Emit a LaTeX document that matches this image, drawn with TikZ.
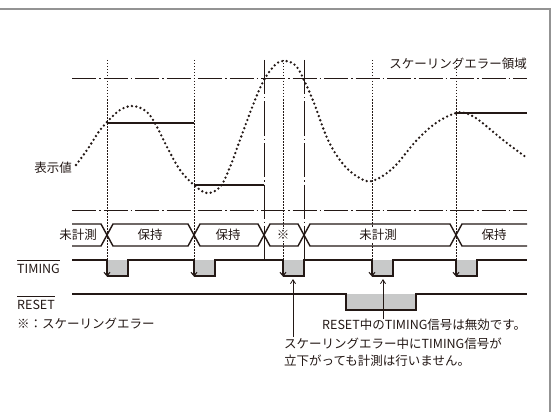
\documentclass[tikz,border=0pt]{standalone}
\usepackage{fontspec}
\setmainfont{Noto Sans CJK JP}
\usetikzlibrary{arrows.meta}
\definecolor{ink}{RGB}{35,24,21}
\definecolor{pulsegray}{RGB}{200,201,201}
\begin{document}
\begin{tikzpicture}[x=1pt,y=-1pt,
  font=\fontsize{12.5}{15}\selectfont,
  vdot/.style={ink, line width=0.8pt, dash pattern=on 1.5pt off 1.5pt},
  ddash/.style={ink, line width=0.9pt, dash pattern=on 24pt off 3pt on 1.5pt off 3pt},
  vddash/.style={ink, line width=1pt, dash pattern=on 34pt off 3pt on 1.5pt off 3pt},
  wave/.style={ink, line width=1.4pt},
  hold/.style={ink, line width=2.4pt},
  curvedots/.style={ink, line width=2.6pt, line cap=round, dash pattern=on 0pt off 4.4pt},
  fall/.style={ink, line width=1.1pt, -{Straight Barb[length=3.5pt,width=6pt]}},
  ann/.style={ink, line width=0.8pt, -{Straight Barb[length=4pt,width=5pt]}},
  bus/.style={ink, line width=1.4pt, line join=miter},
  lbl/.style={inner sep=0pt, text=ink},
  buslbl/.style={inner sep=1pt, text=ink, fill=white},
  frameline/.style={gray!85, line width=1.4pt}
]
\useasboundingbox (0,0) rectangle (552,412);
\fill[white] (0,0) rectangle (552,412);
% frame
\draw[frameline] (0,9) -- (550,9) -- (550,412);

% threshold dash-dot lines
\draw[ddash] (72,78) -- (527,78);
\draw[ddash] (72,210) -- (527,210);
\node[lbl, anchor=east] (scalereg) at (527,64) {スケーリングエラー領域};

% vertical timing guides
\foreach \x in {107,194,283,372,456} \draw[vdot] (\x,60) -- (\x,260);
\foreach \x in {264,304} \draw[vddash] (\x,60) -- (\x,260);

% grey pulse fills
\foreach \x in {107,194,283,372,456} \fill[pulsegray] (\x,260) rectangle (\x+21,276);
\fill[pulsegray] (346,294) rectangle (416,310);

% display value curve
\draw[curvedots] plot[smooth, tension=0.6] coordinates {
 (76,165) (87,150) (100,130) (107,122) (120,110) (133,106) (147,112) (157,127)
 (167,147) (180,170) (194,185) (207,193) (220,187) (230,167) (240,140) (253,105)
 (264,80) (276,64) (286,61) (296,66) (304,80) (314,103) (328,140) (343,164)
 (358,177) (372,181) (393,168) (416,141) (436,123) (456,113) (468,114) (480,121)
 (503,140) (527,158)};
\node[lbl, anchor=east] (dispval) at (72,168) {表示値};

% hold lines
\draw[hold] (107,123) -- (194,123);
\draw[hold] (194,185) -- (264,185);
\draw[hold] (456,113) -- (527,113);

% status bus
\draw[bus] (72,224) -- (101,224) -- (107,235) -- (101,246) -- (72,246);
\draw[bus] (107,235) -- (113,224) -- (188,224) -- (194,235) -- (188,246) -- (113,246) -- cycle;
\draw[bus] (194,235) -- (200,224) -- (258,224) -- (264,235) -- (258,246) -- (200,246) -- cycle;
\draw[bus] (264,235) -- (270,224) -- (298,224) -- (304,235) -- (298,246) -- (270,246) -- cycle;
\draw[bus] (304,235) -- (310,224) -- (450,224) -- (456,235) -- (450,246) -- (310,246) -- cycle;
\draw[bus] (527,224) -- (462,224) -- (456,235) -- (462,246) -- (527,246);
\node[buslbl] (s1) at (78,235) {未計測};
\node[buslbl] (s2) at (150,235) {保持};
\node[buslbl] (s3) at (228,235) {保持};
\node[buslbl] (s4) at (283,235) {※};
\node[buslbl] (s5) at (378,235) {未計測};
\node[buslbl] (s6) at (494,235) {保持};

% TIMING waveform
\draw[wave] (72,260) -- (107,260)
  (107,276) -- (128,276) -- (128,260) -- (194,260)
  (194,276) -- (215,276) -- (215,260) -- (283,260)
  (283,276) -- (304,276) -- (304,260) -- (372,260)
  (372,276) -- (393,276) -- (393,260) -- (456,260)
  (456,276) -- (477,276) -- (477,260) -- (527,260);
\foreach \x in {107,194,283,372,456} \draw[fall] (\x,260) -- (\x,276.6);

% RESET waveform
\draw[wave] (72,294) -- (346,294) -- (346,310) -- (416,310) -- (416,294) -- (527,294);

% labels
\node[lbl, anchor=west] (timlbl) at (17,269) {TIMING};
\node[lbl, anchor=west] (reslbl) at (17,305) {RESET};
\coordinate (tov) at (0,260);
\coordinate (rov) at (0,296.5);
\draw[ink, line width=0.8pt] (timlbl.west |- tov) -- (timlbl.east |- tov);
\draw[ink, line width=0.8pt] (reslbl.west |- rov) -- (reslbl.east |- rov);
\node[lbl, anchor=west] (errnote) at (17,324) {※：スケーリングエラー};

% annotations
\node[lbl, anchor=west] (n1) at (322,325) {RESET中のTIMING信号は無効です。};
\node[lbl, anchor=west] (n2) at (284,344) {スケーリングエラー中にTIMING信号が};
\node[lbl, anchor=west] (n3) at (284,361) {立下がっても計測は行いません。};
\coordinate (p1) at (383,279);
\coordinate (p2) at (293,279);
\draw[ann] (n1.north -| p1) -- (p1);
\draw[ann] ([yshift=1pt]n2.north -| p2) -- (p2);
\end{tikzpicture}
\end{document}
